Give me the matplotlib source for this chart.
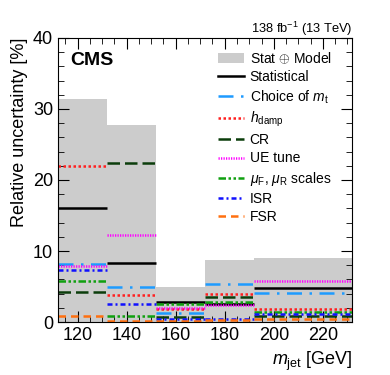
import matplotlib
matplotlib.use("Agg")
import matplotlib.pyplot as plt
from matplotlib.lines import Line2D
from matplotlib.patches import Patch
from matplotlib.ticker import MultipleLocator
import numpy as np

plt.rcParams['font.family'] = ['Liberation Sans', 'DejaVu Sans']
plt.rcParams['mathtext.fontset'] = 'custom'
plt.rcParams['mathtext.it'] = 'Liberation Sans:italic'
plt.rcParams['mathtext.rm'] = 'Liberation Sans'

# bin edges in m_jet [GeV]
edges = np.array([112, 132, 152, 172, 192, 232])

# relative uncertainties [%] per bin
stat_model = [31.4, 27.7, 4.9, 8.8, 9.0]
statistical = [16.1, 8.3, 2.85, 2.5, 4.8]
choice_mt = [8.2, 5.0, 1.3, 5.35, 4.05]
hdamp = [22.0, 3.85, 1.8, 3.95, 1.9]
cr = [4.2, 22.4, 0.75, 3.5, 0.85]
ue_tune = [7.9, 12.2, 2.0, 2.45, 5.8]
mu_scales = [5.8, 0.85, 2.5, 2.8, 1.4]
isr = [7.3, 2.55, 0.45, 0.4, 1.1]
fsr = [0.85, 0.2, 0.2, 0.35, 0.4]

fig = plt.figure(figsize=(3.9, 3.75), dpi=100)
ax = fig.add_axes([0.149, 0.141, 0.754, 0.758])

ax.stairs(stat_model, edges, fill=True, color='#cccccc', lw=0)

# (values, colour, linestyle, label)
series = [
    (statistical, 'black', '-', 'Statistical'),
    (choice_mt, '#1e9bff', (0, (6, 3, 1, 3)), 'Choice of $m_{\\mathrm{t}}$'),
    (hdamp, '#ff2020', (0, (1, 1)), '$h_{\\mathrm{damp}}$'),
    (cr, '#0b3d0b', (0, (5, 2)), 'CR'),
    (ue_tune, '#ff00ff', (0, (0.5, 0.5)), 'UE tune'),
    (mu_scales, '#10a010', (0, (3, 1, 1, 1, 1, 1)), '$\\mu_{\\mathrm{F}}$, $\\mu_{\\mathrm{R}}$ scales'),
    (isr, '#1010ff', (0, (2, 1.2, 0.8, 1.2)), 'ISR'),
    (fsr, '#ff7010', (0, (3, 2)), 'FSR'),
]
lw = 1.8

handles = [Patch(facecolor='#cccccc', edgecolor='none', label='Stat $\\oplus$ Model')]
for vals, col, ls, lab in series:
    ax.hlines(vals, edges[:-1], edges[1:], colors=col, linestyles=[ls], linewidth=lw)
    handles.append(Line2D([], [], color=col, ls=ls, lw=lw, label=lab))

ax.set_xlim(112, 232)
ax.set_ylim(0, 40)
ax.xaxis.set_major_locator(MultipleLocator(20))
ax.xaxis.set_minor_locator(MultipleLocator(5))
ax.yaxis.set_major_locator(MultipleLocator(10))
ax.yaxis.set_minor_locator(MultipleLocator(2))
ax.tick_params(which='both', direction='in', top=True, right=True, labelsize=13)
ax.tick_params(which='major', length=8)
ax.tick_params(which='minor', length=4)

ax.set_ylabel('Relative uncertainty [%]', fontsize=13, loc='top')
ax.set_xlabel('$m_{\\mathrm{jet}}$ [GeV]', fontsize=13, loc='right')
ax.set_title('138 fb$^{-1}$ (13 TeV)', loc='right', fontsize=9.3, pad=3)
ax.text(0.04, 0.95, 'CMS', transform=ax.transAxes, fontsize=14,
        fontweight='bold', va='top')

ax.legend(handles=handles, loc='upper left', frameon=False, fontsize=10,
          handlelength=1.85, handletextpad=0.4, labelspacing=0.3,
          borderaxespad=0.0, bbox_to_anchor=(0.526, 0.975))

fig.savefig('out.png', dpi=100)
